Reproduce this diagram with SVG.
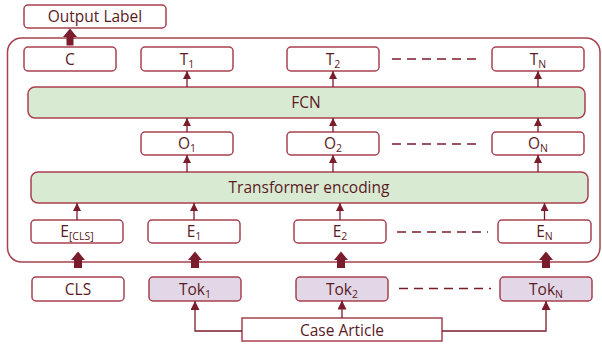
<svg xmlns="http://www.w3.org/2000/svg" width="602" height="345" viewBox="0 0 602 345">
  <defs>
    <marker id="tip" viewBox="0 0 10 10" refX="10" refY="5" markerWidth="8" markerHeight="8" markerUnits="userSpaceOnUse" orient="auto">
      <path d="M0,0 L10,5 L0,10 Z" fill="#7a1c2c"/>
    </marker>
    <marker id="tip2" viewBox="0 0 10 10" refX="10" refY="5" markerWidth="9" markerHeight="9" markerUnits="userSpaceOnUse" orient="auto">
      <path d="M0,0 L10,5 L0,10 Z" fill="#7a1c2c"/>
    </marker>
  </defs>
  <style>
    .box { fill: #ffffff; stroke: #a8404f; stroke-width: 1.5; }
    .tok { fill: #e2d7e7; stroke: #a8404f; stroke-width: 1.5; }
    .bar { fill: #d9ead3; stroke: #a8404f; stroke-width: 1.5; }
    .frame { fill: none; stroke: #a8404f; stroke-width: 1.5; }
    .lbl { font-family: "Open Sans", "Noto Sans", sans-serif; font-size: 15.5px; fill: #5a1a24; text-anchor: middle; }
    .sub { font-size: 10.5px; }
    .arr { fill: none; stroke: #7a1c2c; stroke-width: 1.3; marker-end: url(#tip); }
    .link { fill: none; stroke: #7a1c2c; stroke-width: 1.3; marker-end: url(#tip2); }
    .dash { fill: none; stroke: #7a1c2c; stroke-width: 1.6; stroke-dasharray: 9 6; }
    .block { fill: #7a1c2c; }
  </style>

  <!-- enclosing model frame -->
  <rect class="frame" x="7.5" y="38" width="592.5" height="224" rx="14"/>

  <g id="output-label">
    <rect class="box" x="24" y="5" width="142" height="23" rx="4"/>
    <text class="lbl" x="95" y="22">Output Label</text>
  </g>

  <!-- top row -->
  <g id="c">
    <rect class="box" x="24" y="47" width="92" height="24" rx="4"/>
    <text class="lbl" x="70" y="64.5">C</text>
  </g>
  <g id="t1">
    <rect class="box" x="141" y="47" width="92" height="24" rx="4"/>
    <text class="lbl" x="187" y="64.5">T<tspan class="sub" dy="3">1</tspan></text>
  </g>
  <g id="t2">
    <rect class="box" x="287" y="47" width="92" height="24" rx="4"/>
    <text class="lbl" x="333" y="64.5">T<tspan class="sub" dy="3">2</tspan></text>
  </g>
  <g id="tn">
    <rect class="box" x="492" y="47" width="92" height="24" rx="4"/>
    <text class="lbl" x="538" y="64.5">T<tspan class="sub" dy="3">N</tspan></text>
  </g>

  <g id="fcn">
    <rect class="bar" x="28" y="87" width="557" height="31" rx="7"/>
    <text class="lbl" x="306" y="108">FCN</text>
  </g>

  <!-- middle row -->
  <g id="o1">
    <rect class="box" x="141" y="132" width="92" height="23" rx="4"/>
    <text class="lbl" x="187" y="149">O<tspan class="sub" dy="3">1</tspan></text>
  </g>
  <g id="o2">
    <rect class="box" x="287" y="132" width="92" height="23" rx="4"/>
    <text class="lbl" x="333" y="149">O<tspan class="sub" dy="3">2</tspan></text>
  </g>
  <g id="on">
    <rect class="box" x="492" y="132" width="92" height="23" rx="4"/>
    <text class="lbl" x="538" y="149">O<tspan class="sub" dy="3">N</tspan></text>
  </g>

  <g id="transformer">
    <rect class="bar" x="31" y="172" width="557" height="31" rx="7"/>
    <text class="lbl" x="309" y="193">Transformer encoding</text>
  </g>

  <!-- embedding row -->
  <g id="e-cls">
    <rect class="box" x="31" y="220" width="92" height="23" rx="4"/>
    <text class="lbl" x="77" y="237">E<tspan class="sub" dy="3">[CLS]</tspan></text>
  </g>
  <g id="e1">
    <rect class="box" x="148" y="220" width="92" height="23" rx="4"/>
    <text class="lbl" x="194" y="237">E<tspan class="sub" dy="3">1</tspan></text>
  </g>
  <g id="e2">
    <rect class="box" x="294" y="220" width="92" height="23" rx="4"/>
    <text class="lbl" x="340" y="237">E<tspan class="sub" dy="3">2</tspan></text>
  </g>
  <g id="en">
    <rect class="box" x="498" y="220" width="93" height="23" rx="4"/>
    <text class="lbl" x="544.5" y="237">E<tspan class="sub" dy="3">N</tspan></text>
  </g>

  <!-- token row -->
  <g id="cls">
    <rect class="box" x="32" y="277" width="92" height="24" rx="4"/>
    <text class="lbl" x="78" y="294.5">CLS</text>
  </g>
  <g id="tok1">
    <rect class="tok" x="149" y="277" width="92" height="24" rx="4"/>
    <text class="lbl" x="195" y="294.5">Tok<tspan class="sub" dy="3">1</tspan></text>
  </g>
  <g id="tok2">
    <rect class="tok" x="296" y="277" width="92" height="24" rx="4"/>
    <text class="lbl" x="342" y="294.5">Tok<tspan class="sub" dy="3">2</tspan></text>
  </g>
  <g id="tokn">
    <rect class="tok" x="500" y="277" width="92" height="24" rx="4"/>
    <text class="lbl" x="546" y="294.5">Tok<tspan class="sub" dy="3">N</tspan></text>
  </g>

  <g id="case-article">
    <rect class="box" x="242" y="318" width="200" height="23" rx="0"/>
    <text class="lbl" x="342" y="335.5">Case Article</text>
  </g>

  <g id="connectors">
    <!-- ellipsis dashes -->
    <line class="dash" x1="392" y1="59" x2="482" y2="59"/>
    <line class="dash" x1="392" y1="144" x2="482" y2="144"/>
    <line class="dash" x1="397" y1="232" x2="488" y2="232"/>
    <line class="dash" x1="399" y1="288.5" x2="491" y2="288.5"/>

    <!-- FCN to T -->
    <line class="arr" x1="187" y1="87" x2="187" y2="71"/>
    <line class="arr" x1="333" y1="87" x2="333" y2="71"/>
    <line class="arr" x1="538" y1="87" x2="538" y2="71"/>
    <!-- O to FCN -->
    <line class="arr" x1="187" y1="132" x2="187" y2="118"/>
    <line class="arr" x1="333" y1="132" x2="333" y2="118"/>
    <line class="arr" x1="538" y1="132" x2="538" y2="118"/>
    <!-- Transformer to O -->
    <line class="arr" x1="187" y1="172" x2="187" y2="155"/>
    <line class="arr" x1="333" y1="172" x2="333" y2="155"/>
    <line class="arr" x1="538" y1="172" x2="538" y2="155"/>
    <!-- E to Transformer -->
    <line class="arr" x1="77" y1="220" x2="77" y2="203"/>
    <line class="arr" x1="194" y1="220" x2="194" y2="203"/>
    <line class="arr" x1="340" y1="220" x2="340" y2="203"/>
    <line class="arr" x1="544.5" y1="220" x2="544.5" y2="203"/>

    <!-- block arrows -->
    <path class="block" d="M70,28.5 L77,37 L73.5,37 L73.5,45.5 L66.5,45.5 L66.5,37 L63,37 Z"/>
    <path class="block" d="M78,251.5 L85,260 L82,260 L82,268 L74,268 L74,260 L71,260 Z"/>
    <path class="block" d="M195,251.5 L202,260 L199,260 L199,268 L191,268 L191,260 L188,260 Z"/>
    <path class="block" d="M341,251.5 L348,260 L345,260 L345,268 L337,268 L337,260 L334,260 Z"/>
    <path class="block" d="M546,251.5 L553,260 L550,260 L550,268 L542,268 L542,260 L539,260 Z"/>

    <!-- Case Article to tokens -->
    <polyline class="link" points="242,331 195,331 195,301"/>
    <line class="link" x1="342" y1="318" x2="342" y2="300.5"/>
    <polyline class="link" points="442,331 546,331 546,301"/>
  </g>
</svg>
